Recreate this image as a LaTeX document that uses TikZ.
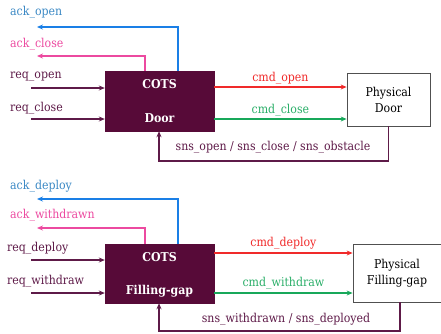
\documentclass[tikz,border=0pt]{standalone}
\usepackage{fontspec}
\setmainfont{DejaVu Serif Condensed}
\usetikzlibrary{arrows.meta}
\definecolor{cotsfill}{HTML}{570A38}
\definecolor{reqcol}{HTML}{5E1A48}
\definecolor{ackblue}{HTML}{1A7FE6}
\definecolor{ackbluetxt}{HTML}{3A88C4}
\definecolor{ackpink}{HTML}{EC4AA0}
\definecolor{cmdred}{HTML}{F02A2A}
\definecolor{cmdgreen}{HTML}{18A85A}
\definecolor{cmdgreentxt}{HTML}{2AAE68}
\definecolor{frame}{HTML}{505050}
\tikzset{
  x=1pt, y=-1pt,
  every node/.style={font=\fontsize{12.2}{14}\selectfont},
  cots/.style={draw=cotsfill, fill=cotsfill, inner sep=0},
  cotstxt/.style={text=white, font=\fontsize{12.2}{14}\selectfont\bfseries, inner sep=0},
  phys/.style={draw=frame, fill=white, line width=0.8pt, align=center, font=\fontsize{12.2}{16}\selectfont, inner sep=0},
  lbl/.style={inner sep=0, anchor=west},
  flow/.style={line width=1.1pt, -{Stealth[length=6pt,width=5pt]}},
}
\begin{document}
\begin{tikzpicture}
\useasboundingbox (0,0) rectangle (441,333);

% ---------- Door ----------
\node[cots, minimum width=109pt, minimum height=60pt] (door) at (159.5,101) {};
\node[cotstxt] (doort1) at (159.5,84) {COTS};
\node[cotstxt] (doort2) at (159.5,118) {Door};
\node[phys, minimum width=83pt, minimum height=53pt] (pdoor) at (388.5,99.5) {Physical\\Door};

\coordinate (aoE) at (37,27);
\coordinate (acE) at (37,56);
\coordinate (roS) at (31,88);
\coordinate (rcS) at (31,119);

\node[lbl, text=ackbluetxt] (aoL) at (10,12) {ack\_open};
\node[lbl, text=ackpink] (acL) at (10,44) {ack\_close};
\node[lbl, text=reqcol] (roL) at (10,77) {req\_open};
\node[lbl, text=reqcol] (rcL) at (10,108) {req\_close};

\draw[flow, ackblue] (door.north -| 178,0) |- (aoE);
\draw[flow, ackpink] (door.north -| 145,0) |- (acE);
\draw[flow, reqcol] (roS) -- (roS -| door.west);
\draw[flow, reqcol] (rcS) -- (rcS -| door.west);

\draw[flow, cmdred] (door.east |- 0,87) -- (pdoor.west |- 0,87)
  node[midway, above=2pt, text=cmdred, inner sep=0] (coL) {cmd\_open};
\draw[flow, cmdgreen] (door.east |- 0,119) -- (pdoor.west |- 0,119)
  node[midway, above=2pt, text=cmdgreentxt, inner sep=0] (ccL) {cmd\_close};

\coordinate (dfb) at (159,161);
\draw[flow, reqcol] (pdoor.south) |- (dfb) -- (door.south -| dfb);
\node[text=reqcol, inner sep=0] (sdL) at (273,147) {sns\_open / sns\_close / sns\_obstacle};

% ---------- Filling-gap ----------
\node[cots, minimum width=109pt, minimum height=59pt] (gap) at (159.5,273.5) {};
\node[cotstxt] (gapt1) at (159.5,257) {COTS};
\node[cotstxt] (gapt2) at (159.5,291) {Filling-gap};
\node[phys, minimum width=88pt, minimum height=58pt] (pgap) at (397,273) {Physical\\Filling-gap};

\coordinate (adE) at (37,199);
\coordinate (awE) at (37,228);
\coordinate (rdS) at (31,260);
\coordinate (rwS) at (31,293);

\node[lbl, text=ackbluetxt] (adL) at (10,186) {ack\_deploy};
\node[lbl, text=ackpink] (awL) at (10,215) {ack\_withdrawn};
\node[lbl, text=reqcol] (rdL) at (7,248) {req\_deploy};
\node[lbl, text=reqcol] (rwL) at (7,281) {req\_withdraw};

\draw[flow, ackblue] (gap.north -| 178,0) |- (adE);
\draw[flow, ackpink] (gap.north -| 145,0) |- (awE);
\draw[flow, reqcol] (rdS) -- (rdS -| gap.west);
\draw[flow, reqcol] (rwS) -- (rwS -| gap.west);

\draw[flow, cmdred] (gap.east |- 0,253) -- (pgap.west |- 0,253)
  node[midway, above=3pt, text=cmdred, inner sep=0] (cdL) {cmd\_deploy};
\draw[flow, cmdgreen] (gap.east |- 0,293) -- (pgap.west |- 0,293)
  node[midway, above=3pt, text=cmdgreentxt, inner sep=0] (cwL) {cmd\_withdraw};

\coordinate (gfb) at (159,331);
\coordinate (gcorner) at (400,331);
\draw[flow, reqcol] (pgap.south -| gcorner) -- (gcorner) -- (gfb) -- (gap.south -| gfb);
\node[text=reqcol, inner sep=0] (sgL) at (286,319) {sns\_withdrawn / sns\_deployed};
\end{tikzpicture}
\end{document}
